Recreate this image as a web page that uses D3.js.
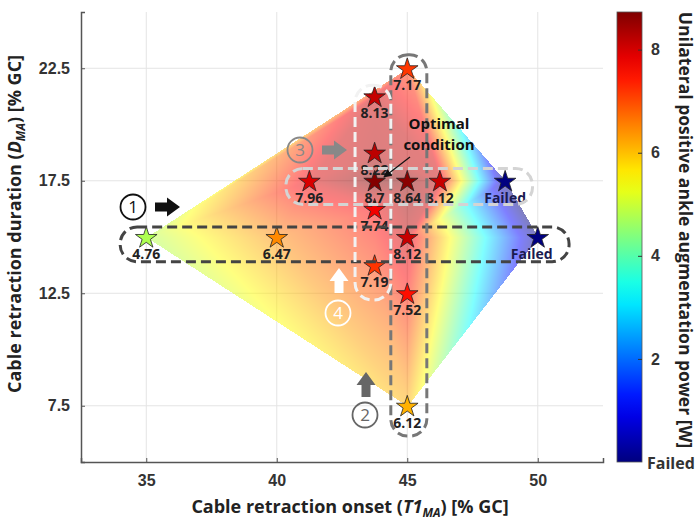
<!DOCTYPE html>
<html>
<head>
<meta charset="utf-8">
<title>ankle power map</title>
<script src="https://cdn.jsdelivr.net/npm/d3@7"></script>
<style>
body { margin: 0; background: #fff; }
svg { font-family: "Open Sans", "DejaVu Sans", sans-serif; font-weight: bold; }
.tick text { font-size: 16px; fill: #333; }
</style>
</head>
<body>
<svg id="chart" width="700" height="523"></svg>
<script>
// tested conditions: onset T1 [%GC], duration D [%GC], power [W] (null = failed)
var onset    = [35, 40, 41.25, 43.75, 45, 43.75, 43.75, 45, 46.25, 48.75, 43.75, 45, 50, 43.75, 45, 45];
var duration = [15, 15, 17.5, 21.25, 22.5, 18.75, 17.5, 17.5, 17.5, 17.5, 16.25, 15, 15, 13.75, 12.5, 7.5];
var power    = [4.76, 6.47, 7.96, 8.13, 7.17, 8.22, 8.7, 8.64, 8.12, null, 7.74, 8.12, null, 7.19, 7.52, 6.12];
var xTicks = [35, 40, 45, 50];
var yTicks = [7.5, 12.5, 17.5, 22.5];
var cTicks = [2, 4, 6, 8];
var cMax = 8.73;

var margin = {top: 12, left: 81, right: 97, bottom: 61},
    W = 700, H = 523,
    w = W - margin.left - margin.right,
    h = H - margin.top - margin.bottom;

var svg = d3.select('#chart');
var x = d3.scaleLinear().domain([32.5, 52.5]).range([margin.left, margin.left + w]);
var y = d3.scaleLinear().domain([5, 25]).range([margin.top + h, margin.top]);

// jet colormap
var jet = d3.scaleLinear()
    .domain([0, .125, .375, .625, .875, 1].map(function(t) { return t * cMax; }))
    .range(["#00007f", "#0000ff", "#00ffff", "#ffff00", "#ff0000", "#7f0000"])
    .clamp(true);

var pts = onset.map(function(o, i) {
    return {x: o, y: duration[i], v: power[i] == null ? 0 : power[i], failed: power[i] == null, label: power[i] == null ? "Failed" : String(power[i])};
});

// grid
svg.append('g').selectAll('line.gx').data(xTicks).enter().append('line')
    .attr('x1', d => x(d)).attr('x2', d => x(d))
    .attr('y1', margin.top).attr('y2', margin.top + h)
    .attr('stroke', '#e4e4e4');
svg.append('g').selectAll('line.gy').data(yTicks).enter().append('line')
    .attr('y1', d => y(d)).attr('y2', d => y(d))
    .attr('x1', margin.left).attr('x2', margin.left + w)
    .attr('stroke', '#e4e4e4');

// interpolated surface (linear over delaunay triangles)
var cv = document.createElement('canvas');
cv.width = W; cv.height = H;
var ctx = cv.getContext('2d');
var img = ctx.createImageData(W, H);
var del = d3.Delaunay.from(pts, d => x(d.x), d => y(d.y));
var tr = del.triangles;
for (var t = 0; t < tr.length; t += 3) {
    var a = pts[tr[t]], b = pts[tr[t + 1]], c = pts[tr[t + 2]];
    var ax = x(a.x), ay = y(a.y), bx = x(b.x), by = y(b.y), cx = x(c.x), cy = y(c.y);
    var den = (by - cy) * (ax - cx) + (cx - bx) * (ay - cy);
    var x0 = Math.floor(Math.min(ax, bx, cx)), x1 = Math.ceil(Math.max(ax, bx, cx));
    var y0 = Math.floor(Math.min(ay, by, cy)), y1 = Math.ceil(Math.max(ay, by, cy));
    for (var py = y0; py <= y1; py++) {
        for (var px = x0; px <= x1; px++) {
            var l1 = ((by - cy) * (px - cx) + (cx - bx) * (py - cy)) / den;
            var l2 = ((cy - ay) * (px - cx) + (ax - cx) * (py - cy)) / den;
            var l3 = 1 - l1 - l2;
            if (l1 < -0.001 || l2 < -0.001 || l3 < -0.001) continue;
            var v = l1 * a.v + l2 * b.v + l3 * c.v;
            var col = d3.rgb(jet(v));
            var k = (py * W + px) * 4;
            img.data[k] = col.r; img.data[k + 1] = col.g; img.data[k + 2] = col.b; img.data[k + 3] = 128;
        }
    }
}
ctx.putImageData(img, 0, 0);
svg.append('image').attr('x', 0).attr('y', 0).attr('width', W).attr('height', H)
    .attr('href', cv.toDataURL());

// axes
var xAxis = svg.append('g').attr('transform', 'translate(0,' + (margin.top + h) + ')')
    .call(d3.axisBottom(x).tickValues(xTicks).tickSize(-4).tickPadding(13).tickFormat(d3.format('d')));
var yAxis = svg.append('g').attr('transform', 'translate(' + margin.left + ',0)')
    .call(d3.axisLeft(y).tickValues(yTicks).tickSize(-4).tickPadding(10).tickFormat(d3.format('.1f')));
[xAxis, yAxis].forEach(function(g) {
    g.select('.domain').attr('stroke', '#555').attr('stroke-width', 1.5);
    g.selectAll('.tick line').attr('stroke', '#555');
    g.selectAll('.tick text').style('font-family', 'inherit');
});
yAxis.selectAll('.tick text').attr('dx', '-1');

// axis titles
var xt = svg.append('text').attr('x', 350).attr('y', 513).attr('text-anchor', 'middle')
    .style('font-size', '18px').attr('fill', '#222');
xt.append('tspan').text('Cable retraction onset (');
xt.append('tspan').style('font-style', 'italic').text('T1');
xt.append('tspan').style('font-style', 'italic').style('font-size', '12px').attr('dy', 4).text('MA');
xt.append('tspan').attr('dy', -4).text(') [% GC]');

var yt = svg.append('text').attr('transform', 'translate(21,224) rotate(-90)').attr('text-anchor', 'middle')
    .style('font-size', '18px').attr('fill', '#222');
yt.append('tspan').text('Cable retraction duration (');
yt.append('tspan').style('font-style', 'italic').text('D');
yt.append('tspan').style('font-style', 'italic').style('font-size', '12px').attr('dy', 4).text('MA');
yt.append('tspan').attr('dy', -4).text(') [% GC]');

// stars + value labels
var star = d3.symbol().type(d3.symbolStar).size(145);
svg.append('g').selectAll('path').data(pts).enter().append('path')
    .attr('d', star)
    .attr('transform', d => 'translate(' + x(d.x) + ',' + (y(d.y) + 1) + ')')
    .attr('fill', d => d.failed ? '#000080' : jet(d.v))
    .attr('stroke', '#222').attr('stroke-width', 0.8);
svg.append('g').selectAll('text').data(pts).enter().append('text')
    .attr('x', d => x(d.x) - (d.failed && d.x === 50 ? 6 : 0))
    .attr('y', d => y(d.y) + 22)
    .attr('text-anchor', 'middle')
    .style('font-size', '14px')
    .attr('fill', d => d.failed ? '#1a1a50' : '#222')
    .text(d => d.label);

// dashed group outlines (data units)
var boxes = [
    {x0: 34.0, x1: 51.2, y0: 13.9, y1: 15.45, color: '#444'},
    {x0: 44.37, x1: 45.75, y0: 6.15, y1: 23.1, color: '#777'},
    {x0: 40.35, x1: 49.8, y0: 16.45, y1: 18.05, color: '#d4d4d4'},
    {x0: 43.0, x1: 44.37, y0: 12.2, y1: 21.75, color: '#f2f2f2'}
];
svg.append('g').selectAll('rect').data(boxes).enter().append('rect')
    .attr('x', d => x(d.x0)).attr('y', d => y(d.y1))
    .attr('width', d => x(d.x1) - x(d.x0)).attr('height', d => y(d.y0) - y(d.y1))
    .attr('rx', 17).attr('ry', 17)
    .attr('fill', 'none').attr('stroke', d => d.color).attr('stroke-width', 3)
    .attr('stroke-dasharray', '10,5');

// circled numbers and block arrows
var marks = [
    {n: '1', cx: 133, cy: 207, color: '#111', ax: 155, ay: 207, dir: 'right'},
    {n: '2', cx: 365, cy: 415, color: '#666', ax: 366, ay: 397, dir: 'up'},
    {n: '3', cx: 300, cy: 150, color: '#888', ax: 322, ay: 150, dir: 'right'},
    {n: '4', cx: 338, cy: 313, color: '#fff', ax: 339, ay: 293, dir: 'up'}
];
marks.forEach(function(m) {
    svg.append('circle').attr('cx', m.cx).attr('cy', m.cy).attr('r', 12.5)
        .attr('fill', 'none').attr('stroke', m.color).attr('stroke-width', 1.8);
    svg.append('text').attr('x', m.cx).attr('y', m.cy + 6).attr('text-anchor', 'middle')
        .style('font-size', '17px').style('font-weight', 'normal').attr('fill', m.color).text(m.n);
    var p;
    if (m.dir === 'right') {
        p = [[0, -4.5], [12, -4.5], [12, -9.5], [25, 0], [12, 9.5], [12, 4.5], [0, 4.5]];
    } else {
        p = [[-4.5, 0], [-4.5, -12], [-9.5, -12], [0, -25], [9.5, -12], [4.5, -12], [4.5, 0]];
    }
    p = p.map(q => [m.ax + q[0], m.ay + q[1]]);
    svg.append('path').attr('d', d3.line()(p) + 'Z').attr('fill', m.color);
});

// optimal condition note
svg.append('defs').append('marker').attr('id', 'ah').attr('viewBox', '0 0 10 10')
    .attr('refX', 9).attr('refY', 5).attr('markerWidth', 7).attr('markerHeight', 7).attr('orient', 'auto')
    .append('path').attr('d', 'M0,0L10,5L0,10Z').attr('fill', '#111');
svg.append('line').attr('x1', 410).attr('y1', 157).attr('x2', 384).attr('y2', 177)
    .attr('stroke', '#111').attr('stroke-width', 1.2).attr('marker-end', 'url(#ah)');
svg.append('text').attr('x', 439).attr('y', 129).attr('text-anchor', 'middle')
    .style('font-size', '15px').attr('fill', '#111').text('Optimal');
svg.append('text').attr('x', 439).attr('y', 150).attr('text-anchor', 'middle')
    .style('font-size', '15px').attr('fill', '#111').text('condition');

// colorbar
var cb = {x: 617, w: 25};
var cy = d3.scaleLinear().domain([0, cMax]).range([margin.top + h, margin.top]);
var grad = svg.select('defs').append('linearGradient').attr('id', 'jet')
    .attr('x1', 0).attr('y1', 1).attr('x2', 0).attr('y2', 0);
d3.range(0, 1.0001, 0.05).forEach(function(t) {
    grad.append('stop').attr('offset', t).attr('stop-color', jet(t * cMax));
});
svg.append('rect').attr('x', cb.x).attr('y', margin.top).attr('width', cb.w).attr('height', h)
    .attr('fill', 'url(#jet)').attr('stroke', '#555').attr('stroke-width', 0.8);
var cAxis = svg.append('g').attr('transform', 'translate(' + (cb.x + cb.w) + ',0)')
    .call(d3.axisRight(cy).tickValues(cTicks).tickSize(-4).tickPadding(9).tickFormat(d3.format('d')));
cAxis.select('.domain').remove();
cAxis.selectAll('.tick line').attr('stroke', '#333');
cAxis.selectAll('.tick text').style('font-family', 'inherit').style('font-size', '16px');
svg.append('text').attr('x', cb.x + cb.w + 5).attr('y', margin.top + h + 7)
    .style('font-size', '16px').attr('fill', '#333').text('Failed');
svg.append('text').attr('transform', 'translate(679,230) rotate(90)').attr('text-anchor', 'middle')
    .style('font-size', '17.5px').attr('fill', '#222')
    .text('Unilateral positive ankle augmentation power [W]');
</script>
</body>
</html>
